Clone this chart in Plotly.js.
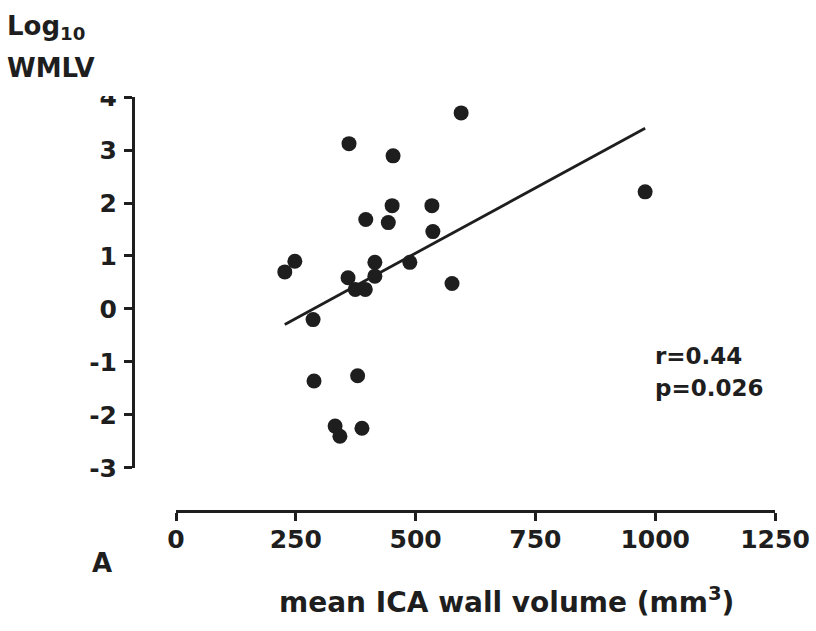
<!DOCTYPE html>
<html>
<head>
<meta charset="utf-8">
<script src="https://cdn.plot.ly/plotly-3.0.1.min.js"></script>
<style>
  html, body { margin: 0; padding: 0; background: #ffffff; }
  #chart { width: 816px; height: 631px; }
</style>
</head>
<body>
<div id="chart"></div>
<script>
// mean ICA wall volume (mm^3)
const wallVolume = [595, 361, 453, 979, 451, 534, 396, 443, 536, 248, 227, 415,
                    488, 359, 415, 374, 395, 576, 286, 288, 379, 332, 342, 388];
// Log10 WMLV
const logWMLV = [3.70, 3.12, 2.89, 2.21, 1.95, 1.95, 1.69, 1.63, 1.46, 0.90, 0.70, 0.88,
                 0.88, 0.59, 0.62, 0.37, 0.37, 0.48, -0.20, -1.36, -1.26, -2.21, -2.40, -2.25];
const xTicks = [0, 250, 500, 750, 1000, 1250];
const yTicks = [-3, -2, -1, 0, 1, 2, 3, 4];
const statR = "r=0.44";
const statP = "p=0.026";

// least-squares regression line fitted to the data
const n = wallVolume.length;
const mx = wallVolume.reduce((a, b) => a + b, 0) / n;
const my = logWMLV.reduce((a, b) => a + b, 0) / n;
let sxy = 0, sxx = 0;
for (let i = 0; i < n; i++) {
  sxy += (wallVolume[i] - mx) * (logWMLV[i] - my);
  sxx += (wallVolume[i] - mx) * (wallVolume[i] - mx);
}
const slope = sxy / sxx;
const icpt = my - slope * mx;
const xFit = [Math.min(...wallVolume), Math.max(...wallVolume)];
const yFit = xFit.map(v => icpt + slope * v);

const ink = '#1e1e1e';
const FONT = 'DejaVu Sans';
const tickFont = { family: FONT, size: 25, color: ink, weight: 'bold' };

const traces = [
  {
    x: xFit, y: yFit, type: 'scatter', mode: 'lines',
    line: { color: ink, width: 2.8 }, hoverinfo: 'skip', showlegend: false
  },
  {
    x: wallVolume, y: logWMLV, type: 'scatter', mode: 'markers',
    marker: { color: ink, size: 15, line: { width: 0 } },
    showlegend: false
  }
];

const layout = {
  width: 816, height: 631,
  margin: { l: 133, r: 41, t: 97, b: 120, pad: 0 },
  paper_bgcolor: '#ffffff', plot_bgcolor: '#ffffff',
  showlegend: false,
  xaxis: {
    range: [0, 1250], domain: [0.067, 1], anchor: 'free', position: 0,
    tickmode: 'array', tickvals: xTicks, ticktext: xTicks.map(String),
    showline: true, linecolor: ink, linewidth: 3,
    ticks: 'outside', ticklen: 8, tickwidth: 3, tickcolor: ink,
    showgrid: false, zeroline: false, tickfont: tickFont,
    ticklabelstandoff: -3, fixedrange: true
  },
  yaxis: {
    range: [-3, 4], domain: [0.1039, 1], anchor: 'free', position: 0,
    tickmode: 'array', tickvals: yTicks, ticktext: yTicks.map(String),
    showline: true, linecolor: ink, linewidth: 3,
    ticks: 'outside', ticklen: 8, tickwidth: 3, tickcolor: ink,
    showgrid: false, zeroline: false, tickfont: tickFont,
    ticklabelstandoff: 2, fixedrange: true
  },
  shapes: [
    { type: 'rect', xref: 'paper', yref: 'paper', layer: 'above',
      x0: -0.062, x1: -0.014, y0: 1.0024, y1: 1.05,
      fillcolor: '#ffffff', line: { width: 0 } }
  ],
  annotations: [
    { text: 'Log<sub>10</sub>', xref: 'paper', yref: 'paper', x: -0.1994, y: 1.2126,
      xanchor: 'left', yanchor: 'top', showarrow: false, align: 'left',
      font: { family: FONT, size: 26, color: ink, weight: 'bold' } },
    { text: 'WMLV', xref: 'paper', yref: 'paper', x: -0.1994, y: 1.1111,
      xanchor: 'left', yanchor: 'top', showarrow: false,
      font: { family: FONT, size: 26, color: ink, weight: 'bold' } },
    { text: 'mean ICA wall volume (mm<sup>3</sup>)', xref: 'paper', yref: 'paper',
      x: 0.5818, y: -0.2647, xanchor: 'center', yanchor: 'bottom', showarrow: false,
      font: { family: FONT, size: 28, color: ink, weight: 'bold' } },
    { text: 'A', xref: 'paper', yref: 'paper', x: -0.0483, y: -0.0845,
      xanchor: 'center', yanchor: 'top', showarrow: false,
      font: { family: FONT, size: 26, color: ink, weight: 'bold' } },
    { text: statR, xref: 'paper', yref: 'paper', x: 0.81, y: 0.3372,
      xanchor: 'left', yanchor: 'bottom', showarrow: false,
      font: { family: FONT, size: 23, color: ink, weight: 'bold' } },
    { text: statP, xref: 'paper', yref: 'paper', x: 0.81, y: 0.2599,
      xanchor: 'left', yanchor: 'bottom', showarrow: false,
      font: { family: FONT, size: 23, color: ink, weight: 'bold' } }
  ]
};

Plotly.newPlot('chart', traces, layout, { displayModeBar: false, staticPlot: true });
</script>
</body>
</html>
